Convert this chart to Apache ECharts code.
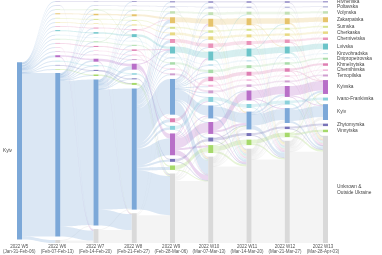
<!DOCTYPE html>
<html><head><meta charset="utf-8">
<script src="https://cdn.jsdelivr.net/npm/echarts@6/dist/echarts.min.js"></script>
<style>html,body{margin:0;padding:0;background:#fff}#c{width:382px;height:255px}</style>
</head><body><div id="c"></div>
<script>
const weekNames = ['2022 W5','2022 W6','2022 W7','2022 W8','2022 W9','2022 W10','2022 W11','2022 W12','2022 W13'];
const weekDates = ['(Jan-31-Feb-06)','(Feb-07-Feb-13)','(Feb-14-Feb-20)','(Feb-21-Feb-27)','(Feb-28-Mar-06)','(Mar-07-Mar-13)','(Mar-14-Mar-20)','(Mar-21-Mar-27)','(Mar-28-Apr-03)'];
const regionCodes = ['Ri','Po','Vo','Za','Su','Ck','Cv','Lv','Ki','Dn','Kh','Cg','Te','Ks','IF','Ky','Zh','Vi','Un'];
const regionNames = ['Rivnenska','Poltavska','Volynska','Zakarpatska','Sumska','Cherkaska','Chernivetska','Lvivska','Kirovohradska','Dnipropetrovska','Khmelnytska','Chernihivska','Ternopilska','Kyivska','Ivano-Frankivska','Kyiv','Zhytomyrska','Vinnytska','Unknown & Outside Ukraine'];
const regionColors = ['#a9a3d1','#bcbddc','#c2e0b4','#e6c36b','#d6e28c','#e8d982','#e993b9','#6cc4c9','#c9e4ef','#a9dca9','#de7fb2','#f1b6da','#cf9fd0','#b86fc8','#8ad1db','#7ca8d8','#7873b8','#a6d96a','#d9d9d9'];

// node order inside each weekly column
const orderEarly = ['Ri','Po','Vo','Za','Su','Ck','Cv','Lv','Ki','Dn','Kh','Cg','Te','Ks','IF','Zh','Vi','Ky','Un'];
const orderW9 = ['Ri','Po','Vo','Za','Su','Ck','Cv','Lv','Ki','Dn','Cg','Te','Ky','Kh','IF','Ks','Zh','Vi','Un'];
const orderW10 = ['Ri','Po','Vo','Za','Su','Ck','Cv','Lv','Ki','Dn','Kh','Cg','Te','IF','Ky','Ks','Zh','Vi','Un'];
const orderLate = ['Ri','Po','Vo','Za','Su','Ck','Cv','Lv','Ki','Dn','Kh','Cg','Te','Ks','IF','Ky','Zh','Vi','Un'];
const columnOrders = [orderEarly, orderEarly, orderEarly, orderEarly, orderW9, orderW10, orderLate, orderLate, orderLate];

// flows between consecutive weeks: [from region, to region, people]
const flowsW5W6 = [['Ky','Ri',1],['Ky','Po',1],['Ky','Vo',1],['Ky','Za',2],['Ky','Su',1],['Ky','Ck',1],['Ky','Cv',1],['Ky','Lv',2],['Ky','Ki',1],['Ky','Dn',1],['Ky','Kh',1],['Ky','Cg',1],['Ky','Te',1],['Ky','Ks',4],['Ky','IF',1],['Ky','Ky',329],['Ky','Zh',1],['Ky','Vi',1],['Ky','Un',6]];
const flowsW6W7 = [['Ri','Ri',1],['Po','Un',1],['Vo','Vo',1],['Za','Za',2],['Su','Su',1],['Ck','Ck',1],['Cv','Cv',1],['Lv','Lv',2],['Ki','Ki',1],['Dn','Dn',1],['Kh','Kh',1],['Cg','Un',1],['Te','Te',1],['Ks','Ks',3],['Ks','Un',1],['IF','IF',1],['Zh','Zh',1],['Vi','Vi',1],['Un','Un',5],['Un','Ky',1],
  ['Ky','Ky',293],['Ky','Un',20],['Ky','Po',1],['Ky','Vo',1],['Ky','Za',1],['Ky','Su',1],['Ky','Cv',1],['Ky','Lv',1],['Ky','Dn',1],['Ky','Kh',1],['Ky','Cg',1],['Ky','Ks',3],['Ky','IF',1],['Ky','Zh',1],['Ky','Vi',2]];
const flowsW7W8 = [['Ri','Ri',1],['Po','Po',1],['Vo','Vo',1],['Vo','Lv',1],['Za','Za',3],['Su','Su',1],['Su','Un',1],['Ck','Ck',1],['Cv','Cv',2],['Lv','Lv',3],['Ki','Ki',1],['Dn','Dn',1],['Dn','Za',1],['Kh','Kh',2],['Cg','Cg',1],['Te','Te',1],['Ks','Ks',5],['Ks','Un',1],['IF','IF',2],['Zh','Zh',1],['Zh','Vi',1],['Vi','Vi',3],['Un','Un',26],['Un','Ky',2],
  ['Ky','Ky',242],['Ky','Un',32],['Ky','Ri',1],['Ky','Vo',1],['Ky','Su',1],['Ky','Ck',1],['Ky','Cv',1],['Ky','Lv',2],['Ky','Dn',1],['Ky','Kh',1],['Ky','Cg',1],['Ky','Te',1],['Ky','Ks',7],['Ky','IF',1],['Ky','Zh',1]];
const flowsW8W9 = [['Ri','Ri',2],['Po','Po',1],['Vo','Vo',2],['Za','Za',4],['Su','Su',1],['Su','Un',1],['Ck','Ck',2],['Cv','Cv',2],['Cv','Za',1],['Lv','Lv',5],['Lv','Un',1],['Ki','Ki',1],['Dn','Dn',2],['Kh','Kh',2],['Kh','Lv',1],['Cg','Cg',1],['Cg','Ks',1],['Te','Te',2],['Ks','Ks',9],['Ks','Un',2],['Ks','Lv',1],['IF','IF',3],['Zh','Zh',2],['Vi','Vi',3],['Vi','Un',1],['Un','Un',56],['Un','Ky',2],['Un','Lv',2],
  ['Ky','Ky',70],['Ky','Un',79],['Ky','Ri',1],['Ky','Po',2],['Ky','Vo',3],['Ky','Za',7],['Ky','Su',3],['Ky','Ck',4],['Ky','Cv',6],['Ky','Lv',5],['Ky','Ki',2],['Ky','Dn',3],['Ky','Kh',6],['Ky','Cg',2],['Ky','Te',2],['Ky','Ks',34],['Ky','IF',5],['Ky','Zh',4],['Ky','Vi',6]];
const flowsW9W10 = [['Ri','Ri',3],['Po','Po',2],['Po','Un',1],['Vo','Vo',4],['Vo','Lv',1],['Za','Za',10],['Za','Un',2],['Su','Su',3],['Su','Un',1],['Ck','Ck',5],['Ck','Vi',1],['Cv','Cv',7],['Cv','Un',1],['Lv','Lv',12],['Lv','Un',2],['Ki','Ki',2],['Ki','Dn',1],['Dn','Dn',4],['Dn','Un',1],['Kh','Kh',7],['Kh','Un',1],['Cg','Cg',3],['Te','Te',4],
  ['Ks','Ks',20],['Ks','Un',10],['Ks','Lv',3],['Ks','Za',3],['Ks','Vi',4],['Ks','IF',2],['Ks','Ky',2],
  ['IF','IF',7],['IF','Un',1],['Zh','Zh',5],['Zh','Un',1],['Vi','Vi',8],['Vi','Un',1],
  ['Un','Un',125],['Un','Ky',4],['Un','Za',3],['Un','Lv',2],['Un','Vi',3],['Un','Ks',3],
  ['Ky','Ky',20],['Ky','Un',27],['Ky','Ri',1],['Ky','Po',2],['Ky','Vo',2],['Ky','Su',2],['Ky','Ck',2],['Ky','Cv',2],['Ky','Ki',2],['Ky','Dn',2],['Ky','Kh',2],['Ky','Cg',1],['Ky','Te',2],['Ky','Ks',1],['Ky','IF',1],['Ky','Zh',3]];
const flowsW10W11 = [['Ri','Ri',3],['Ri','Un',1],['Po','Po',3],['Po','Un',1],['Vo','Vo',5],['Vo','Lv',1],['Za','Za',12],['Za','Un',3],['Za','Ky',1],['Su','Su',3],['Su','Un',2],['Ck','Ck',5],['Ck','Ky',1],['Ck','Un',1],['Cv','Cv',7],['Cv','Un',2],['Lv','Lv',14],['Lv','Un',3],['Lv','Vo',1],['Ki','Ki',3],['Ki','Un',1],['Dn','Dn',5],['Dn','Un',2],['Kh','Kh',7],['Kh','Un',2],['Cg','Cg',3],['Cg','Ky',1],['Te','Te',4],['Te','Un',2],['Ks','Ks',17],['Ks','Ky',4],['Ks','Un',3],['IF','IF',7],['IF','Un',3],['Ky','Ky',20],['Ky','Un',4],['Ky','Ks',2],['Zh','Zh',5],['Zh','Un',2],['Zh','Ky',1],['Vi','Vi',10],['Vi','Un',4],['Vi','Ky',2],
  ['Un','Un',154],['Un','Ky',6],['Un','Ri',1],['Un','Za',2],['Un','Su',1],['Un','Ck',1],['Un','Cv',1],['Un','Lv',1],['Un','Dn',1],['Un','Kh',1],['Un','Te',1],['Un','Ks',1],['Un','IF',1],['Un','Zh',1],['Un','Vi',1]];
const flowsW11W12 = [['Ri','Ri',3],['Ri','Un',1],['Po','Po',2],['Po','Un',1],['Vo','Vo',5],['Vo','Un',1],['Za','Za',11],['Za','Un',2],['Za','Lv',1],['Su','Su',3],['Su','Un',1],['Ck','Ck',4],['Ck','Un',2],['Cv','Cv',6],['Cv','Un',2],['Lv','Lv',12],['Lv','Un',3],['Lv','Za',1],['Ki','Ki',2],['Ki','Un',1],['Dn','Dn',4],['Dn','Un',2],['Kh','Kh',6],['Kh','Un',2],['Cg','Cg',2],['Cg','Un',1],['Te','Te',3],['Te','Un',2],['Ks','Ks',16],['Ks','Ky',2],['Ks','Un',2],['IF','IF',6],['IF','Un',2],['Ky','Ky',22],['Ky','Ks',4],['Ky','Un',8],['Ky','IF',1],['Ky','Lv',1],['Zh','Zh',4],['Zh','Un',2],['Vi','Vi',8],['Vi','Un',3],
  ['Un','Un',168],['Un','Ky',6],['Un','Ri',1],['Un','Po',1],['Un','Vo',1],['Un','Su',1],['Un','Ck',1],['Un','Cv',1],['Un','Ki',1],['Un','Dn',1],['Un','Kh',1],['Un','Cg',1],['Un','Te',1],['Un','Ks',2],['Un','IF',1],['Un','Zh',1],['Un','Vi',1]];
const flowsW12W13 = [['Ri','Ri',3],['Ri','Un',1],['Po','Po',2],['Po','Un',1],['Vo','Vo',4],['Vo','Un',2],['Za','Za',9],['Za','Un',2],['Za','Ky',1],['Su','Su',3],['Su','Un',1],['Ck','Ck',4],['Ck','Un',1],['Cv','Cv',4],['Cv','Un',2],['Cv','Ks',1],['Lv','Lv',11],['Lv','Un',2],['Lv','Ky',1],['Ki','Ki',2],['Ki','Un',1],['Dn','Dn',3],['Dn','Un',2],['Kh','Kh',4],['Kh','Un',2],['Kh','Ks',1],['Cg','Cg',2],['Cg','Un',1],['Te','Te',3],['Te','Un',1],['Ks','Ks',19],['Ks','Ky',2],['Ks','Un',1],['IF','IF',5],['IF','Un',3],['Ky','Ky',22],['Ky','Ks',4],['Ky','Un',4],['Zh','Zh',4],['Zh','Un',1],['Vi','Vi',4],['Vi','Un',4],['Vi','Ks',1],
  ['Un','Un',184],['Un','Ky',6],['Un','Po',1],['Un','Vo',1],['Un','Za',1],['Un','Su',1],['Un','Ck',1],['Un','Cv',1],['Un','Lv',1],['Un','Dn',1],['Un','Kh',1],['Un','Cg',1],['Un','Te',1],['Un','Ks',2],['Un','IF',1],['Un','Zh',1],['Un','Vi',1]];
const weeklyFlows = [flowsW5W6, flowsW6W7, flowsW7W8, flowsW8W9, flowsW9W10, flowsW10W11, flowsW11W12, flowsW12W13];

const FONT = 'Liberation Sans, Arial, sans-serif';
const lastWeek = weekNames.length - 1;
const nodes = [];
columnOrders.forEach((order, w) => {
  order.forEach(code => {
    const idx = regionCodes.indexOf(code);
    let label = { show: false };
    if (w === lastWeek) label = { show: true, position: 'right' };
    if (w === 0 && code === 'Ky') label = { show: true, position: 'left', distance: 5 };
    nodes.push({ name: code + '|' + w, depth: w, itemStyle: { color: regionColors[idx] }, label: label });
  });
});
const links = [];
weeklyFlows.forEach((list, t) => {
  list.forEach(([a, b, v]) => links.push({ source: a + '|' + t, target: b + '|' + (t + 1), value: v }));
});

const chart = echarts.init(document.getElementById('c'), null, { renderer: 'canvas' });
chart.setOption({
  animation: false,
  backgroundColor: '#fff',
  grid: { left: 16, right: 59, top: 230, bottom: 15 },
  xAxis: {
    type: 'category', boundaryGap: false,
    data: weekNames.map((n, i) => n + '\n' + weekDates[i]),
    axisLine: { show: false }, axisTick: { show: false }, splitLine: { show: false },
    axisLabel: { interval: 0, margin: 4, fontSize: 4.5, lineHeight: 5, color: '#555', fontFamily: FONT, hideOverlap: false }
  },
  yAxis: { type: 'value', show: false },
  series: [{
    type: 'sankey',
    left: 17, right: 54, top: 1, bottom: 12,
    nodeWidth: 5, nodeGap: 3.6,
    layoutIterations: 0, nodeAlign: 'left', draggable: false,
    emphasis: { disabled: true },
    itemStyle: { borderWidth: 0 },
    lineStyle: { color: 'source', opacity: 0.28, curveness: 0.5 },
    label: {
      fontSize: 4.8, color: '#444', fontFamily: FONT, distance: 9, lineHeight: 6,
      formatter: p => regionNames[regionCodes.indexOf(p.name.split('|')[0])].replace('& ', '&\n')
    },
    data: nodes,
    links: links
  }]
});
</script></body></html>
